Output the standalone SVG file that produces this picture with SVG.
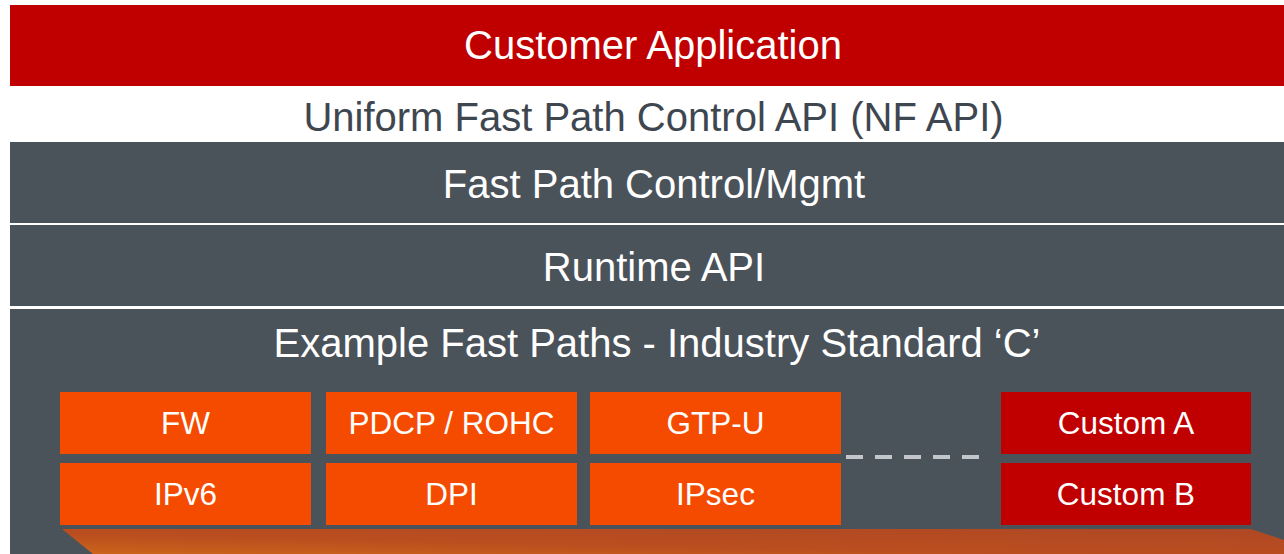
<svg xmlns="http://www.w3.org/2000/svg" width="1284" height="554" viewBox="0 0 1284 554">
  <defs>
    <style>
      .head { font-family: "Liberation Sans", Arial, sans-serif; font-size: 40px; text-anchor: middle; }
      .lbl { font-family: "Liberation Sans", Arial, sans-serif; font-size: 31.5px; text-anchor: middle; fill: #ffffff; }
      .band { fill: #4a525a; }
      .fp { fill: #f54b00; }
      .custom { fill: #c00000; }
    </style>
    <linearGradient id="floor" x1="1" y1="0" x2="0" y2="1">
      <stop offset="0" stop-color="#ae4824"/>
      <stop offset="0.6" stop-color="#bb4e1f"/>
      <stop offset="1" stop-color="#cb651a"/>
    </linearGradient>
  </defs>
  <rect width="1284" height="554" fill="#ffffff"/>

  <!-- Stack layers -->
  <g id="customer-application">
    <rect x="10" y="5" width="1274" height="81" fill="#c00000"/>
    <text class="head" x="653" y="58.5" fill="#ffffff">Customer Application</text>
  </g>
  <g id="nf-api">
    <text class="head" x="653.5" y="131" fill="#3e4650">Uniform Fast Path Control API (NF API)</text>
  </g>
  <g id="control-mgmt">
    <rect class="band" x="10" y="142" width="1274" height="81"/>
    <text class="head" x="654" y="197.5" fill="#ffffff">Fast Path Control/Mgmt</text>
  </g>
  <g id="runtime-api">
    <rect class="band" x="10" y="225" width="1274" height="81"/>
    <text class="head" x="654" y="280.5" fill="#ffffff">Runtime API</text>
  </g>
  <g id="fast-paths">
    <rect class="band" x="10" y="309" width="1274" height="245"/>
    <text class="head" x="657" y="356.5" fill="#ffffff">Example Fast Paths - Industry Standard ‘C’</text>
    <!-- platform floor under the modules -->
    <polygon points="62,529 1251,529 1284,540 1284,554 93,554" fill="url(#floor)"/>
  </g>

  <!-- Fast path modules -->
  <g id="fw">
    <rect class="fp" x="60" y="392" width="251" height="62"/>
    <text class="lbl" x="185.5" y="434">FW</text>
  </g>
  <g id="pdcp-rohc">
    <rect class="fp" x="326" y="392" width="251" height="62"/>
    <text class="lbl" x="451.5" y="434">PDCP / ROHC</text>
  </g>
  <g id="gtp-u">
    <rect class="fp" x="590" y="392" width="251" height="62"/>
    <text class="lbl" x="715.5" y="434">GTP-U</text>
  </g>
  <g id="ipv6">
    <rect class="fp" x="60" y="463" width="251" height="62"/>
    <text class="lbl" x="185.5" y="505">IPv6</text>
  </g>
  <g id="dpi">
    <rect class="fp" x="326" y="463" width="251" height="62"/>
    <text class="lbl" x="451.5" y="505">DPI</text>
  </g>
  <g id="ipsec">
    <rect class="fp" x="590" y="463" width="251" height="62"/>
    <text class="lbl" x="715.5" y="505">IPsec</text>
  </g>
  <g id="custom-a">
    <rect class="custom" x="1001" y="392" width="250" height="62"/>
    <text class="lbl" x="1126" y="434">Custom A</text>
  </g>
  <g id="custom-b">
    <rect class="custom" x="1001" y="463" width="250" height="62"/>
    <text class="lbl" x="1126" y="505">Custom B</text>
  </g>

  <!-- Connectors -->
  <g id="connectors">
    <line x1="846" y1="457" x2="979" y2="457" stroke="#c3c6ca" stroke-width="4" stroke-dasharray="17 12"/>
  </g>
</svg>
